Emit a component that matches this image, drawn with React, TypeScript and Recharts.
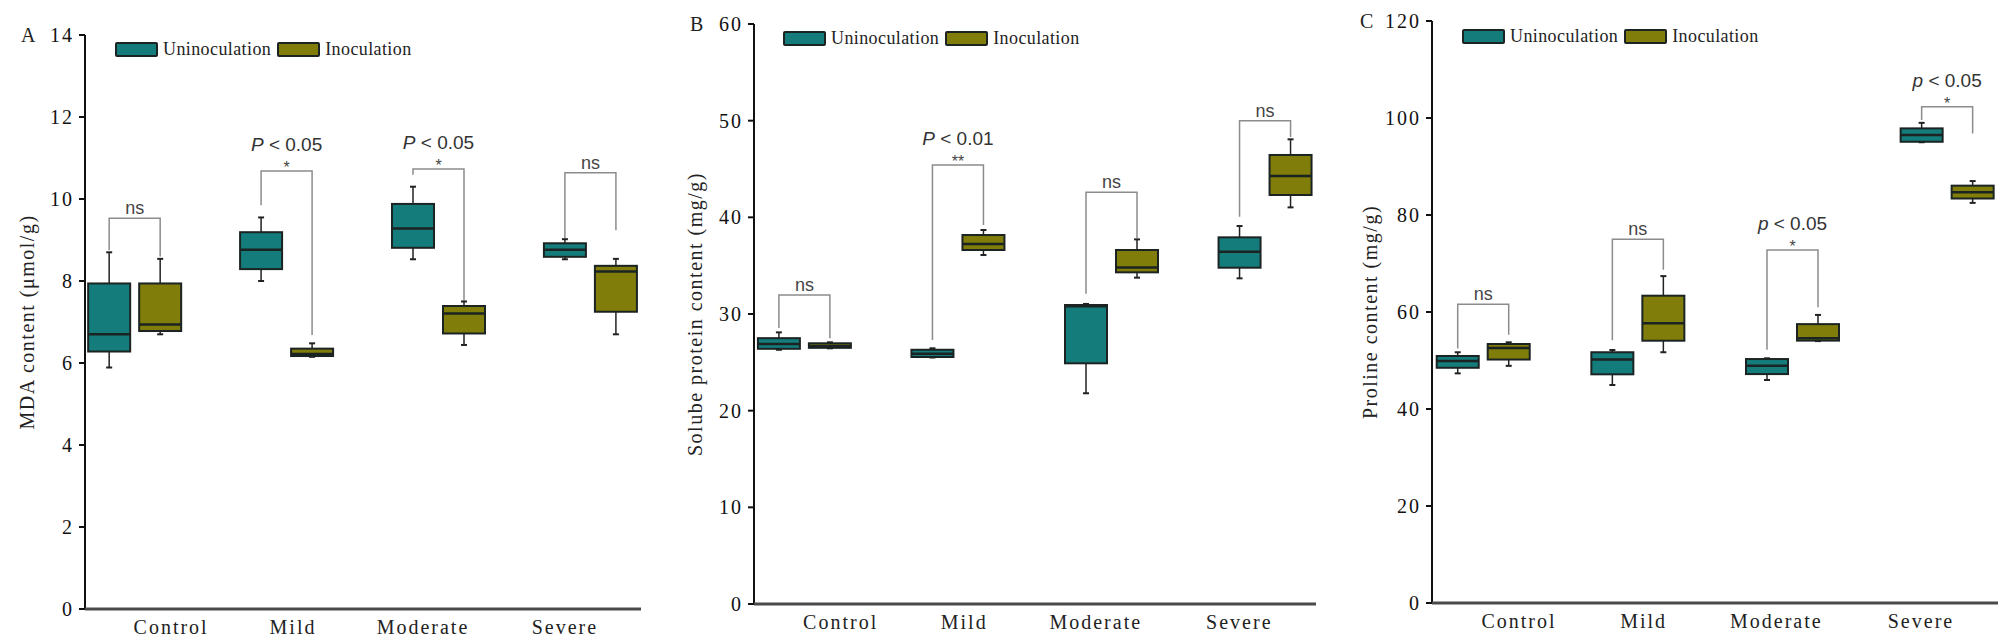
import { BarChart, Bar, XAxis, YAxis } from "recharts";

const categories = ["Control", "Mild", "Moderate", "Severe"];

// box stats per category: [min, q1, median, q3, max]
const mdaUnin = [
  [5.89, 6.28, 6.7, 7.94, 8.7],
  [8.0, 8.29, 8.76, 9.19, 9.55],
  [8.53, 8.81, 9.28, 9.88, 10.3],
  [8.53, 8.59, 8.76, 8.92, 9.02],
];
const mdaInoc = [
  [6.7, 6.78, 6.94, 7.94, 8.54],
  [6.15, 6.17, 6.22, 6.35, 6.48],
  [6.44, 6.72, 7.21, 7.39, 7.5],
  [6.7, 7.25, 8.23, 8.37, 8.54],
];
const proteinUnin = [
  [26.3, 26.4, 26.9, 27.5, 28.1],
  [25.5, 25.55, 25.9, 26.3, 26.45],
  [21.8, 24.9, 30.8, 30.93, 31.04],
  [33.69, 34.79, 36.44, 37.93, 39.1],
];
const proteinInoc = [
  [26.45, 26.5, 26.7, 26.97, 27.07],
  [36.1, 36.62, 37.24, 38.17, 38.69],
  [33.76, 34.31, 34.8, 36.62, 37.72],
  [41.03, 42.31, 44.27, 46.45, 48.07],
];
const prolineUnin = [
  [47.35, 48.5, 49.9, 50.93, 51.7],
  [44.95, 47.15, 50.2, 51.7, 52.16],
  [45.98, 47.2, 48.9, 50.3, 50.45],
  [95.0, 95.1, 96.5, 97.86, 99.0],
];
const prolineInoc = [
  [48.9, 50.2, 52.6, 53.4, 53.75],
  [51.7, 54.08, 57.66, 63.36, 67.4],
  [54.0, 54.1, 54.6, 57.5, 59.4],
  [82.5, 83.4, 84.7, 86.05, 87.0],
];

// significance brackets: top of bracket, end of left leg, end of right leg
const mdaBracketTop = [9.53, 10.68, 10.73, 10.64];
const mdaBracketLeft = [8.75, 9.85, 10.59, 9.05];
const mdaBracketRight = [8.6, 6.68, 7.49, 9.24];
const mdaMarks = ["ns", "*", "*", "ns"];
const mdaP = ["", "P < 0.05", "P < 0.05", ""];

const proteinBracketTop = [31.96, 45.41, 42.59, 50.0];
const proteinBracketLeft = [28.55, 27.3, 32.1, 40.07];
const proteinBracketRight = [27.5, 39.2, 37.86, 48.3];
const proteinMarks = ["ns", "**", "ns", "ns"];
const proteinP = ["", "P < 0.01", "", ""];

const prolineBracketTop = [61.6, 75.0, 72.8, 102.3];
const prolineBracketLeft = [52.5, 54.2, 52.2, 99.6];
const prolineBracketRight = [55.3, 68.7, 60.97, 96.8];
const prolineMarks = ["ns", "ns", "*", "*"];
const prolineP = ["", "", "p < 0.05", "p < 0.05"];

const mdaTicks = [0, 2, 4, 6, 8, 10, 12, 14];
const mdaMinor = [1, 3, 5, 7, 9, 11, 13];
const proteinTicks = [0, 10, 20, 30, 40, 50, 60];
const proteinMinor = [5, 15, 25, 35, 45, 55];
const prolineTicks = [0, 20, 40, 60, 80, 100, 120];
const prolineMinor = [10, 30, 50, 70, 90, 110];

const TEAL = "#147d7c";
const OLIVE = "#807d0a";
const EDGE = "#1b2323";
const BAR_W = 42;
const BAR_GAP = 9;
const SERIF = "'Liberation Serif', 'Times New Roman', serif";
const SANS = "'Liberation Sans', Arial, sans-serif";
const labelShift = [36, 6, -16, -26];

function buildRows(unin: number[][], inoc: number[][], top: number[], l: number[], r: number[], marks: string[], p: string[]) {
  return categories.map((name, i) => ({
    x: i + 1,
    name,
    u: unin[i],
    v: inoc[i],
    bt: top[i],
    bl: l[i],
    br: r[i],
    mark: marks[i],
    p: p[i],
  }));
}

function BoxShape(props: any) {
  const { x, y, width, height, payload, statsKey, fill, withBracket } = props;
  const s: number[] = payload[statsKey];
  const top = Math.min(y, y + height);
  const h = Math.abs(height);
  const k = h / (s[4] - s[0]);
  const Y = (v: number) => top + (s[4] - v) * k;
  const cx = x + width / 2;

  let bracket = null;
  if (withBracket) {
    const rx = cx + width + BAR_GAP;
    const by = Y(payload.bt);
    const mid = (cx + rx) / 2;
    const p: string = payload.p;
    bracket = (
      <g>
        <path
          d={`M${cx},${Y(payload.bl)} V${by} H${rx} V${Y(payload.br)}`}
          fill="none"
          stroke="#8c8c8c"
          strokeWidth={1.5}
        />
        {payload.mark === "ns" ? (
          <text x={mid} y={by - 4} textAnchor="middle" fontFamily={SANS} fontSize={18} fill="#444">
            ns
          </text>
        ) : (
          <text x={mid} y={by + 2} textAnchor="middle" fontFamily={SANS} fontSize={16} fill="#444">
            {payload.mark}
          </text>
        )}
        {p && (
          <text x={mid} y={by - 20} textAnchor="middle" fontFamily={SANS} fontSize={19} fill="#333">
            <tspan fontStyle="italic">{p[0]}</tspan>
            {p.slice(1)}
          </text>
        )}
      </g>
    );
  }

  return (
    <g>
      {bracket}
      <line x1={cx} y1={Y(s[4])} x2={cx} y2={Y(s[3])} stroke="#222" strokeWidth={1.5} />
      <line x1={cx} y1={Y(s[1])} x2={cx} y2={Y(s[0])} stroke="#222" strokeWidth={1.5} />
      <line x1={cx - 3} y1={Y(s[4])} x2={cx + 3} y2={Y(s[4])} stroke="#222" strokeWidth={2} />
      <line x1={cx - 3} y1={Y(s[0])} x2={cx + 3} y2={Y(s[0])} stroke="#222" strokeWidth={2} />
      <rect
        x={x}
        y={Y(s[3])}
        width={width}
        height={Math.max(Y(s[1]) - Y(s[3]), 1)}
        fill={fill}
        stroke={EDGE}
        strokeWidth={2}
      />
      <line x1={x} y1={Y(s[2])} x2={x + width} y2={Y(s[2])} stroke={EDGE} strokeWidth={2.5} />
    </g>
  );
}

function XTick(props: any) {
  const { x, y, payload } = props;
  const i = Math.round(payload.value) - 1;
  if (i < 0 || i >= categories.length) return null;
  return (
    <text
      x={x + labelShift[i]}
      y={y + 25}
      textAnchor="middle"
      fontFamily={SERIF}
      fontSize={20}
      letterSpacing={2}
      fill="#222"
    >
      {categories[i]}
    </text>
  );
}

function Legend2({ left, top }: { left: number; top: number }) {
  const sw = (c: string) => (
    <span
      style={{
        display: "inline-block",
        width: 39,
        height: 11,
        background: c,
        border: `2px solid ${EDGE}`,
        borderRadius: 2,
      }}
    />
  );
  const txt: React.CSSProperties = {
    fontFamily: SERIF,
    fontSize: 18,
    letterSpacing: 0.4,
    color: "#222",
    marginLeft: 5,
    marginRight: 6,
    lineHeight: "15px",
  };
  return (
    <div style={{ position: "absolute", left, top, display: "flex", alignItems: "center", height: 15 }}>
      {sw(TEAL)}
      <span style={txt}>Uninoculation</span>
      {sw(OLIVE)}
      <span style={txt}>Inoculation</span>
    </div>
  );
}

type PanelProps = {
  letter: string;
  left: number;
  width: number;
  top: number;
  right: number;
  bottom: number;
  max: number;
  ticks: number[];
  minor: number[];
  title: string;
  titleX: number;
  rows: any[];
};

function Panel({ letter, left, width, top, right, bottom, max, ticks, minor, title, titleX, rows }: PanelProps) {
  return (
    <div style={{ position: "absolute", left, top: 0 }}>
      <BarChart
        width={width}
        height={642}
        data={rows}
        margin={{ top, right, bottom: 0, left: 0 }}
        barGap={BAR_GAP}
        barCategoryGap={0}
      >
        <YAxis
          yAxisId="minor"
          type="number"
          orientation="left"
          mirror
          width={0}
          domain={[0, max]}
          ticks={minor}
          interval={0}
          tick={false}
          axisLine={false}
          tickSize={4}
          tickLine={{ stroke: "#9a9a9a" }}
        />
        <YAxis
          type="number"
          domain={[0, max]}
          ticks={ticks}
          interval={0}
          width={85}
          tickSize={6}
          tickMargin={5}
          axisLine={{ stroke: "#111", strokeWidth: 2 }}
          tickLine={{ stroke: "#111", strokeWidth: 2 }}
          tick={{ fontFamily: SERIF, fontSize: 20, fill: "#111", letterSpacing: 2 }}
          label={(p: any) => {
            const vb = p.viewBox;
            const cx = vb.x + titleX;
            const cy = vb.y + vb.height / 2;
            return (
              <text
                x={cx}
                y={cy}
                transform={`rotate(-90, ${cx}, ${cy})`}
                textAnchor="middle"
                dominantBaseline="central"
                fontFamily={SERIF}
                fontSize={20}
                letterSpacing={1.5}
                fill="#222"
              >
                {title}
              </text>
            );
          }}
        />
        <XAxis
          dataKey="x"
          type="number"
          domain={[0.67, 4.33]}
          ticks={[1, 2, 3, 4]}
          interval={0}
          allowDataOverflow
          height={bottom}
          tickLine={false}
          tickSize={0}
          tickMargin={0}
          axisLine={{ stroke: "#4a4a4a", strokeWidth: 3 }}
          tick={<XTick />}
        />
        <Bar
          dataKey={(d: any) => [d.u[0], d.u[4]]}
          fill={TEAL}
          barSize={BAR_W}
          isAnimationActive={false}
          shape={(p: any) => <BoxShape {...p} statsKey="u" withBracket />}
        />
        <Bar
          dataKey={(d: any) => [d.v[0], d.v[4]]}
          fill={OLIVE}
          barSize={BAR_W}
          isAnimationActive={false}
          shape={(p: any) => <BoxShape {...p} statsKey="v" />}
        />
      </BarChart>
      <div
        style={{
          position: "absolute",
          left: 85 - 64 + (letter === "C" ? -8 : 0),
          top: top - 9,
          fontFamily: SERIF,
          fontSize: 20,
          color: "#222",
          lineHeight: "18px",
        }}
      >
        {letter}
      </div>
    </div>
  );
}

export default function App() {
  const mdaRows = buildRows(mdaUnin, mdaInoc, mdaBracketTop, mdaBracketLeft, mdaBracketRight, mdaMarks, mdaP);
  const proteinRows = buildRows(
    proteinUnin,
    proteinInoc,
    proteinBracketTop,
    proteinBracketLeft,
    proteinBracketRight,
    proteinMarks,
    proteinP
  );
  const prolineRows = buildRows(
    prolineUnin,
    prolineInoc,
    prolineBracketTop,
    prolineBracketLeft,
    prolineBracketRight,
    prolineMarks,
    prolineP
  );

  return (
    <div style={{ position: "relative", width: 2008, height: 642, margin: -8, background: "#fff", overflow: "hidden" }}>
      <Panel
        letter="A"
        left={0}
        width={670}
        top={35}
        right={29}
        bottom={33}
        max={14}
        ticks={mdaTicks}
        minor={mdaMinor}
        title="MDA content (μmol/g)"
        titleX={27}
        rows={mdaRows}
      />
      <Panel
        letter="B"
        left={669}
        width={670}
        top={24}
        right={23}
        bottom={38}
        max={60}
        ticks={proteinTicks}
        minor={proteinMinor}
        title="Solube protein content (mg/g)"
        titleX={26}
        rows={proteinRows}
      />
      <Panel
        letter="C"
        left={1347}
        width={661}
        top={21}
        right={10}
        bottom={39}
        max={120}
        ticks={prolineTicks}
        minor={prolineMinor}
        title="Proline content (mg/g)"
        titleX={23}
        rows={prolineRows}
      />
      <Legend2 left={115} top={42} />
      <Legend2 left={783} top={31} />
      <Legend2 left={1462} top={29} />
    </div>
  );
}
